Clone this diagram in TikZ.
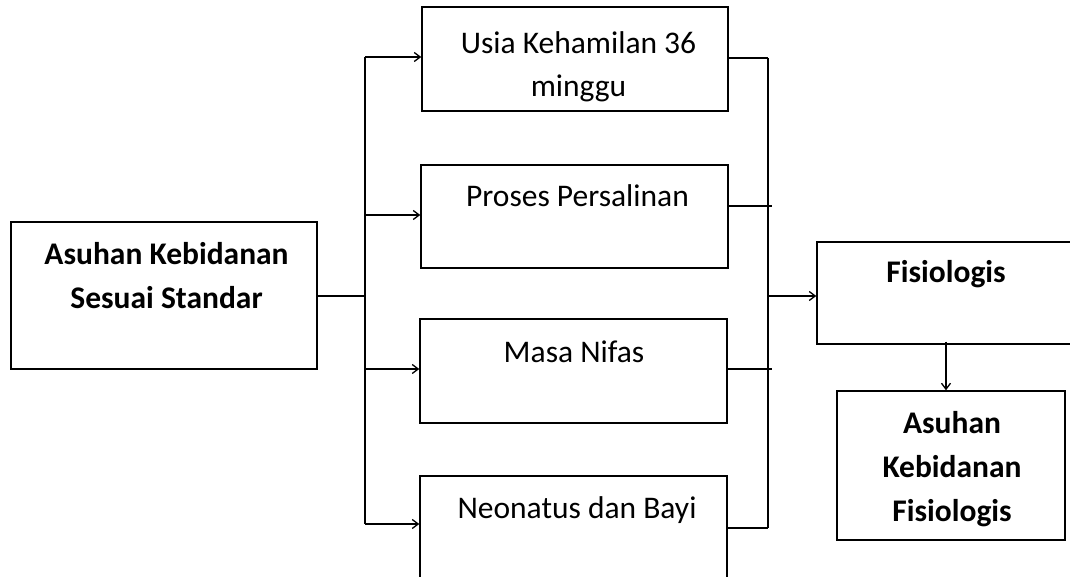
\documentclass[tikz,border=0pt]{standalone}
\usepackage{fontspec}
\setmainfont{Carlito}
\usetikzlibrary{arrows.meta}
\begin{document}
\begin{tikzpicture}[x=1pt,y=-1pt,
  box/.style={draw=black,line width=1.4pt,rectangle,inner sep=0pt},
  txt/.style={font=\fontsize{31.5}{43}\selectfont,align=center,inner sep=0pt},
  btxt/.style={font=\fontsize{31.5}{44}\selectfont\bfseries,align=center,inner sep=0pt},
  conn/.style={line width=1.3pt},
  arr/.style={line width=1.3pt,-{Straight Barb[length=6pt,width=9pt,line width=1.3pt]}}]
\useasboundingbox (0,0) rectangle (1070,577);
\clip (0,0) rectangle (1070,577);
% boxes
\node[box,minimum width=306pt,minimum height=147pt] (A) at (164,295.5) {};
\node[box,minimum width=306pt,minimum height=104pt] (B1) at (575,59) {};
\node[box,minimum width=307pt,minimum height=103pt] (B2) at (574.5,216.5) {};
\node[box,minimum width=307pt,minimum height=104pt] (B3) at (573.5,371) {};
\node[box,minimum width=307pt,minimum height=110pt] (B4) at (573.5,531) {};
\node[box,minimum width=262pt,minimum height=102pt] (F) at (948,293) {};
\node[box,minimum width=228pt,minimum height=149pt] (G) at (951,465.5) {};
% texts
\node[btxt] (tA) at (166.5,276) {Asuhan Kebidanan\\Sesuai Standar};
\node[txt] (tB1) at (578.5,67) {Usia Kehamilan 36\\minggu};
\node[txt,anchor=base] (tB2) at (577.5,207) {Proses Persalinan};
\node[txt,anchor=base] (tB3) at (574,362) {Masa Nifas};
\node[txt,anchor=base] (tB4) at (577,518) {Neonatus dan Bayi};
\node[btxt,anchor=base] (tF) at (946,283) {Fisiologis};
\node[btxt] (tG) at (952,469) {Asuhan\\Kebidanan\\Fisiologis};
% left bus
\coordinate (L0) at (365,296);
\coordinate (L1) at (365,57);
\coordinate (L2) at (365,215);
\coordinate (L3) at (365,369);
\coordinate (L4) at (365,524);
\draw[conn] (A.east |- L0) -- (L0);
\draw[conn] (L1) -- (L4);
\draw[arr] (L1) -- (L1 -| B1.west);
\draw[arr] (L2) -- (L2 -| B2.west);
\draw[arr] (L3) -- (L3 -| B3.west);
\draw[arr] (L4) -- (L4 -| B4.west);
% right bus
\coordinate (R1) at (768,58);
\coordinate (R2) at (772,206);
\coordinate (R3) at (772,369);
\coordinate (R4) at (768,528);
\coordinate (R0) at (768,296);
\draw[conn] (R1 -| B1.east) -- (R1);
\draw[conn] (R2 -| B2.east) -- (R2);
\draw[conn] (R3 -| B3.east) -- (R3);
\draw[conn] (R4 -| B4.east) -- (R4);
\draw[conn] (R1) -- (R4);
\draw[arr] (R0) -- (R0 -| F.west);
\draw[arr] ([yshift=3pt]F.south -| 946,0) -- (G.north -| 946,0);
\end{tikzpicture}
\end{document}
